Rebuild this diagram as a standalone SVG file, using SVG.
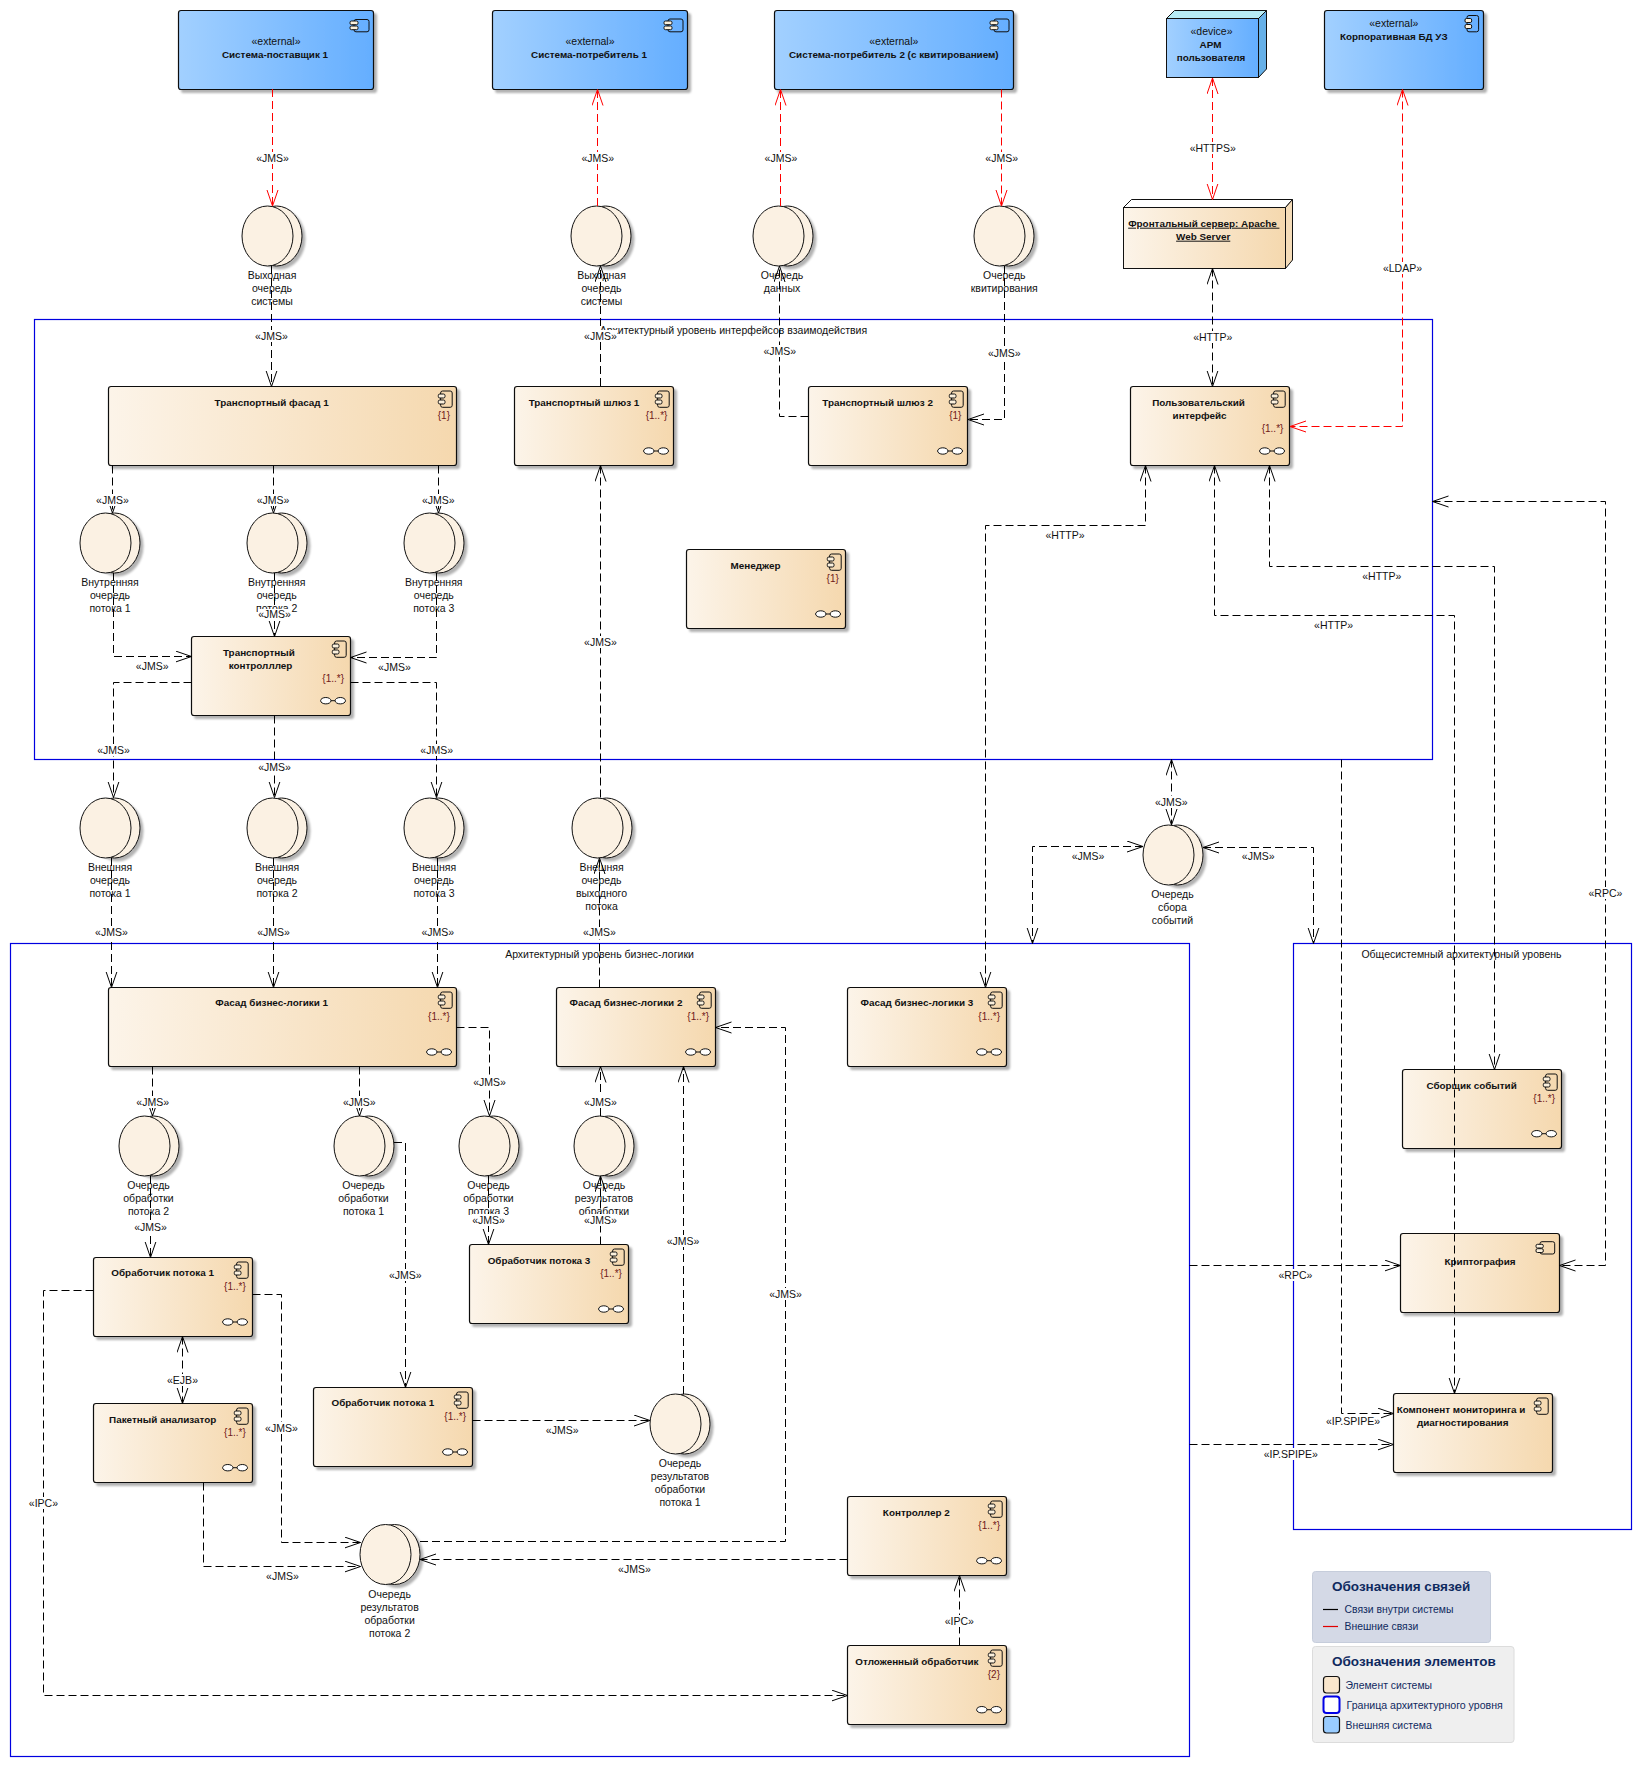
<svg xmlns="http://www.w3.org/2000/svg" width="1641" height="1766" viewBox="0 0 1641 1766">
<style>
text{font-family:"Liberation Sans",Arial,sans-serif;font-size:10.5px;fill:#111;text-anchor:middle}
text.b{font-weight:bold;font-size:9.9px}
text.m{text-anchor:end;fill:#701818;font-size:10px}
.frame{fill:none;stroke:#0000e0;stroke-width:1.2}
.cn{fill:url(#gn);stroke:#111;stroke-width:1.2;filter:url(#sh)}
.cb{fill:url(#gb);stroke:#111;stroke-width:1.2;filter:url(#sh)}
.ic{fill:none;stroke:#111;stroke-width:1}
.it{fill:#fbf0dc;stroke:#111;stroke-width:1}
.ll{fill:#fff;stroke:#111;stroke-width:1}
.qb{fill:#fbf1e3;stroke:#111;stroke-width:1;filter:url(#sh)}
.qf{fill:#fbf1e3;stroke:#111;stroke-width:1}
.c{fill:none;stroke:#000;stroke-width:1;stroke-dasharray:8 4}
.r{stroke:#f00}
.e{marker-end:url(#a)}
.s{marker-start:url(#a);marker-end:url(#a)}
.re{marker-end:url(#ar)}
.rs{marker-start:url(#ar);marker-end:url(#ar)}
.lb{fill:#fff}
text.lg{fill:#0f2a5f;text-anchor:start;font-size:10.4px}
text.lw{fill:#0f2a5f;text-anchor:start;font-size:10.6px}
text.lt{fill:#0f2a5f;font-size:13.5px;font-weight:bold;text-anchor:start}
</style>
<defs>
<linearGradient id="gn"><stop offset="0" stop-color="#fcf4e9"/><stop offset="1" stop-color="#f5d8ae"/></linearGradient>
<linearGradient id="gb"><stop offset="0" stop-color="#a2d0ff"/><stop offset="1" stop-color="#64aeff"/></linearGradient>
<filter id="sh" x="-10%" y="-10%" width="125%" height="125%"><feDropShadow dx="3" dy="3" stdDeviation="1.3" flood-color="#000" flood-opacity="0.3"/></filter>
<marker id="a" markerUnits="userSpaceOnUse" markerWidth="18" markerHeight="14" refX="16" refY="6" orient="auto-start-reverse"><path d="M0,.5 L16,6 L0,11.5" fill="none" stroke="#000"/></marker>
<marker id="ar" markerUnits="userSpaceOnUse" markerWidth="18" markerHeight="14" refX="16" refY="6" orient="auto-start-reverse"><path d="M0,.5 L16,6 L0,11.5" fill="none" stroke="#f00"/></marker>
</defs>
<rect width="1641" height="1766" fill="#fff"/>

<g id="frames">
<rect class="frame" x="34.5" y="319.5" width="1398" height="440"/>
<text x="733.5" y="334">Архитектурный уровень интерфейсов взаимодействия</text>
<rect class="frame" x="10.5" y="943.5" width="1179" height="813"/>
<text x="599.5" y="958">Архитектурный уровень бизнес-логики</text>
<rect class="frame" x="1293.5" y="943.5" width="338" height="586"/>
<text x="1461.5" y="958">Общесистемный архитектурный уровень</text>
</g>

<g id="sys1"><rect class="cb" x="178.5" y="10.5" width="195" height="79" rx="2.5"/><rect class="ic" x="354" y="19.5" width="15" height="12.3" rx="2"/><rect class="it" x="350" y="21" width="8" height="3.7" rx="1.5"/><rect class="it" x="350" y="26" width="8" height="3.7" rx="1.5"/><text x="276" y="44.7">«external»</text><text class="b" x="275" y="57.5">Система-поставщик 1</text></g>
<g id="sys2"><rect class="cb" x="492.5" y="10.5" width="195" height="79" rx="2.5"/><rect class="ic" x="668" y="19" width="15" height="12.8" rx="2"/><rect class="it" x="664" y="21" width="8" height="3.7" rx="1.5"/><rect class="it" x="664" y="26" width="8" height="3.7" rx="1.5"/><text x="590" y="44.7">«external»</text><text class="b" x="589" y="57.5">Система-потребитель 1</text></g>
<g id="sys3"><rect class="cb" x="774.5" y="10.5" width="239" height="79" rx="2.5"/><rect class="ic" x="994" y="19" width="15" height="12.8" rx="2"/><rect class="it" x="990" y="21" width="8" height="3.7" rx="1.5"/><rect class="it" x="990" y="26" width="8" height="3.7" rx="1.5"/><text x="893.8" y="44.7">«external»</text><text class="b" x="893.8" y="57.5">Система-потребитель 2 (с квитированием)</text></g>
<g id="apm"><path d="M1166.5,18.5 L1174.5,10.5 H1266.5 L1258.5,18.5 Z" fill="#b8ecf5" stroke="#111"/><path d="M1258.5,18.5 L1266.5,10.5 V69 L1258.5,77.5 Z" fill="#66b0e8" stroke="#111"/><rect x="1166.5" y="18.5" width="92" height="59" fill="url(#gb)" stroke="#111"/><text x="1211.5" y="34.7">«device»</text><text class="b" x="1210.5" y="47.5">АРМ</text><text class="b" x="1211" y="60.7">пользователя</text></g>
<g id="corp"><rect class="cb" x="1324.5" y="10.5" width="159" height="79" rx="2.5"/><rect class="ic" x="1467" y="15.5" width="11.6" height="16.3" rx="2"/><rect class="it" x="1465" y="18.5" width="6.7" height="4" rx="1.5"/><rect class="it" x="1465" y="24.5" width="6.7" height="4" rx="1.5"/><text x="1393.8" y="26.7">«external»</text><text class="b" x="1393.8" y="39.7">Корпоративная БД УЗ</text></g>
<g id="front"><path d="M1123.5,207.5 L1131.5,199.5 H1292.5 L1285.5,207.5 Z" fill="#fff" stroke="#111"/><path d="M1285.5,207.5 L1292.5,199.5 V260 L1285.5,268.5 Z" fill="#f5dcb8" stroke="#111"/><rect x="1123.5" y="207.5" width="162" height="61" fill="url(#gn)" stroke="#111"/><text class="b" x="1203.8" y="226.7" text-decoration="underline" xml:space="preserve">Фронтальный сервер: Apache </text><text class="b" x="1203.2" y="239.7" text-decoration="underline">Web Server</text></g>

<g id="tf1"><rect class="cn" x="108.5" y="386.5" width="348" height="79" rx="2.5"/><rect class="ic" x="440.6" y="391" width="11.6" height="16.3" rx="2"/><rect class="it" x="438.3" y="394" width="6.7" height="4" rx="1.5"/><rect class="it" x="438.3" y="400" width="6.7" height="4" rx="1.5"/><text class="b" x="271.7" y="405.6">Транспортный фасад 1</text><text class="m" x="450" y="418.7">{1}</text></g>
<g id="tg1"><rect class="cn" x="514.5" y="386.5" width="159" height="79" rx="2.5"/><rect class="ic" x="657.6" y="391" width="11.6" height="16.3" rx="2"/><rect class="it" x="655.3" y="394" width="6.7" height="4" rx="1.5"/><rect class="it" x="655.3" y="400" width="6.7" height="4" rx="1.5"/><ellipse class="ll" cx="648.8" cy="451" rx="5.2" ry="3.2"/><ellipse class="ll" cx="663.3" cy="451" rx="5.2" ry="3.2"/><path class="ic" d="M654,451h4"/><text class="b" x="584" y="405.6">Транспортный шлюз 1</text><text class="m" x="667.4" y="418.7">{1..*}</text></g>
<g id="tg2"><rect class="cn" x="808.5" y="386.5" width="159" height="79" rx="2.5"/><rect class="ic" x="951.6" y="391" width="11.6" height="16.3" rx="2"/><rect class="it" x="949.3" y="394" width="6.7" height="4" rx="1.5"/><rect class="it" x="949.3" y="400" width="6.7" height="4" rx="1.5"/><ellipse class="ll" cx="942.8" cy="451" rx="5.2" ry="3.2"/><ellipse class="ll" cx="957.3" cy="451" rx="5.2" ry="3.2"/><path class="ic" d="M948,451h4"/><text class="b" x="877.6" y="405.6">Транспортный шлюз 2</text><text class="m" x="961.4" y="418.7">{1}</text></g>
<g id="ui"><rect class="cn" x="1130.5" y="386.5" width="159" height="79" rx="2.5"/><rect class="ic" x="1273.6" y="391" width="11.6" height="16.3" rx="2"/><rect class="it" x="1271.3" y="394" width="6.7" height="4" rx="1.5"/><rect class="it" x="1271.3" y="400" width="6.7" height="4" rx="1.5"/><ellipse class="ll" cx="1264.8" cy="451" rx="5.2" ry="3.2"/><ellipse class="ll" cx="1279.3" cy="451" rx="5.2" ry="3.2"/><path class="ic" d="M1270,451h4"/><text class="b" x="1198.5" y="405.6">Пользовательский</text><text class="b" x="1199.6" y="418.7">интерфейс</text><text class="m" x="1283.4" y="432">{1..*}</text></g>
<g id="tc"><rect class="cn" x="191.5" y="636.5" width="159" height="79" rx="2.5"/><rect class="ic" x="334.6" y="641" width="11.6" height="16.3" rx="2"/><rect class="it" x="332.3" y="644" width="6.7" height="4" rx="1.5"/><rect class="it" x="332.3" y="650" width="6.7" height="4" rx="1.5"/><ellipse class="ll" cx="325.8" cy="700.7" rx="5.2" ry="3.2"/><ellipse class="ll" cx="340.3" cy="700.7" rx="5.2" ry="3.2"/><path class="ic" d="M331,700.7h4"/><text class="b" x="258.9" y="655.7">Транспортный</text><text class="b" x="260.5" y="669">контролллер</text><text class="m" x="344" y="682">{1..*}</text></g>
<g id="mgr"><rect class="cn" x="686.5" y="549.5" width="159" height="79" rx="2.5"/><rect class="ic" x="829.6" y="554" width="11.6" height="16.3" rx="2"/><rect class="it" x="827.3" y="557" width="6.7" height="4" rx="1.5"/><rect class="it" x="827.3" y="563" width="6.7" height="4" rx="1.5"/><ellipse class="ll" cx="820.8" cy="614" rx="5.2" ry="3.2"/><ellipse class="ll" cx="835.3" cy="614" rx="5.2" ry="3.2"/><path class="ic" d="M826,614h4"/><text class="b" x="755.5" y="568.7">Менеджер</text><text class="m" x="838.8" y="582">{1}</text></g>
<g id="fbl1"><rect class="cn" x="108.5" y="987.5" width="348" height="79" rx="2.5"/><rect class="ic" x="440.6" y="992" width="11.6" height="16.3" rx="2"/><rect class="it" x="438.3" y="995" width="6.7" height="4" rx="1.5"/><rect class="it" x="438.3" y="1001" width="6.7" height="4" rx="1.5"/><ellipse class="ll" cx="431.8" cy="1052" rx="5.2" ry="3.2"/><ellipse class="ll" cx="446.3" cy="1052" rx="5.2" ry="3.2"/><path class="ic" d="M437,1052h4"/><text class="b" x="271.7" y="1006.4">Фасад бизнес-логики 1</text><text class="m" x="449.8" y="1019.7">{1..*}</text></g>
<g id="fbl2"><rect class="cn" x="556.5" y="987.5" width="159" height="79" rx="2.5"/><rect class="ic" x="699.6" y="992" width="11.6" height="16.3" rx="2"/><rect class="it" x="697.3" y="995" width="6.7" height="4" rx="1.5"/><rect class="it" x="697.3" y="1001" width="6.7" height="4" rx="1.5"/><ellipse class="ll" cx="690.8" cy="1052" rx="5.2" ry="3.2"/><ellipse class="ll" cx="705.3" cy="1052" rx="5.2" ry="3.2"/><path class="ic" d="M696,1052h4"/><text class="b" x="626" y="1006.4">Фасад бизнес-логики 2</text><text class="m" x="709" y="1019.7">{1..*}</text></g>
<g id="fbl3"><rect class="cn" x="847.5" y="987.5" width="159" height="79" rx="2.5"/><rect class="ic" x="990.6" y="992" width="11.6" height="16.3" rx="2"/><rect class="it" x="988.3" y="995" width="6.7" height="4" rx="1.5"/><rect class="it" x="988.3" y="1001" width="6.7" height="4" rx="1.5"/><ellipse class="ll" cx="981.8" cy="1052" rx="5.2" ry="3.2"/><ellipse class="ll" cx="996.3" cy="1052" rx="5.2" ry="3.2"/><path class="ic" d="M987,1052h4"/><text class="b" x="916.9" y="1006.4">Фасад бизнес-логики 3</text><text class="m" x="1000" y="1019.7">{1..*}</text></g>
<g id="h1"><rect class="cn" x="93.5" y="1257.5" width="159" height="79" rx="2.5"/><rect class="ic" x="236.6" y="1262" width="11.6" height="16.3" rx="2"/><rect class="it" x="234.3" y="1265" width="6.7" height="4" rx="1.5"/><rect class="it" x="234.3" y="1271" width="6.7" height="4" rx="1.5"/><ellipse class="ll" cx="227.8" cy="1322" rx="5.2" ry="3.2"/><ellipse class="ll" cx="242.3" cy="1322" rx="5.2" ry="3.2"/><path class="ic" d="M233,1322h4"/><text class="b" x="162.7" y="1276.4">Обработчик потока 1</text><text class="m" x="245.8" y="1289.7">{1..*}</text></g>
<g id="h3"><rect class="cn" x="469.5" y="1244.5" width="159" height="79" rx="2.5"/><rect class="ic" x="612.6" y="1249" width="11.6" height="16.3" rx="2"/><rect class="it" x="610.3" y="1252" width="6.7" height="4" rx="1.5"/><rect class="it" x="610.3" y="1258" width="6.7" height="4" rx="1.5"/><ellipse class="ll" cx="603.8" cy="1309" rx="5.2" ry="3.2"/><ellipse class="ll" cx="618.3" cy="1309" rx="5.2" ry="3.2"/><path class="ic" d="M609,1309h4"/><text class="b" x="539" y="1263.7">Обработчик потока 3</text><text class="m" x="621.9" y="1276.7">{1..*}</text></g>
<g id="pa"><rect class="cn" x="93.5" y="1403.5" width="159" height="79" rx="2.5"/><rect class="ic" x="236.6" y="1408" width="11.6" height="16.3" rx="2"/><rect class="it" x="234.3" y="1411" width="6.7" height="4" rx="1.5"/><rect class="it" x="234.3" y="1417" width="6.7" height="4" rx="1.5"/><ellipse class="ll" cx="227.8" cy="1467.7" rx="5.2" ry="3.2"/><ellipse class="ll" cx="242.3" cy="1467.7" rx="5.2" ry="3.2"/><path class="ic" d="M233,1467.7h4"/><text class="b" x="162.7" y="1422.7">Пакетный анализатор</text><text class="m" x="245.8" y="1436">{1..*}</text></g>
<g id="h1b"><rect class="cn" x="313.5" y="1387.5" width="159" height="79" rx="2.5"/><rect class="ic" x="456.6" y="1392" width="11.6" height="16.3" rx="2"/><rect class="it" x="454.3" y="1395" width="6.7" height="4" rx="1.5"/><rect class="it" x="454.3" y="1401" width="6.7" height="4" rx="1.5"/><ellipse class="ll" cx="447.8" cy="1452" rx="5.2" ry="3.2"/><ellipse class="ll" cx="462.3" cy="1452" rx="5.2" ry="3.2"/><path class="ic" d="M453,1452h4"/><text class="b" x="382.8" y="1406.4">Обработчик потока 1</text><text class="m" x="466" y="1419.7">{1..*}</text></g>
<g id="ctl2"><rect class="cn" x="847.5" y="1496.5" width="159" height="79" rx="2.5"/><rect class="ic" x="990.6" y="1501" width="11.6" height="16.3" rx="2"/><rect class="it" x="988.3" y="1504" width="6.7" height="4" rx="1.5"/><rect class="it" x="988.3" y="1510" width="6.7" height="4" rx="1.5"/><ellipse class="ll" cx="981.8" cy="1560.7" rx="5.2" ry="3.2"/><ellipse class="ll" cx="996.3" cy="1560.7" rx="5.2" ry="3.2"/><path class="ic" d="M987,1560.7h4"/><text class="b" x="916.3" y="1515.7">Контроллер 2</text><text class="m" x="1000" y="1528.7">{1..*}</text></g>
<g id="def"><rect class="cn" x="847.5" y="1645.5" width="159" height="79" rx="2.5"/><rect class="ic" x="990.6" y="1650" width="11.6" height="16.3" rx="2"/><rect class="it" x="988.3" y="1653" width="6.7" height="4" rx="1.5"/><rect class="it" x="988.3" y="1659" width="6.7" height="4" rx="1.5"/><ellipse class="ll" cx="981.8" cy="1709.7" rx="5.2" ry="3.2"/><ellipse class="ll" cx="996.3" cy="1709.7" rx="5.2" ry="3.2"/><path class="ic" d="M987,1709.7h4"/><text class="b" x="916.9" y="1664.7">Отложенный обработчик</text><text class="m" x="1000" y="1677.7">{2}</text></g>
<g id="coll"><rect class="cn" x="1402.5" y="1069.5" width="159" height="79" rx="2.5"/><rect class="ic" x="1545.6" y="1074" width="11.6" height="16.3" rx="2"/><rect class="it" x="1543.3" y="1077" width="6.7" height="4" rx="1.5"/><rect class="it" x="1543.3" y="1083" width="6.7" height="4" rx="1.5"/><ellipse class="ll" cx="1536.8" cy="1133.7" rx="5.2" ry="3.2"/><ellipse class="ll" cx="1551.3" cy="1133.7" rx="5.2" ry="3.2"/><path class="ic" d="M1542,1133.7h4"/><text class="b" x="1471.6" y="1088.7">Сборщик событий</text><text class="m" x="1555" y="1102">{1..*}</text></g>
<g id="crypto"><rect class="cn" x="1400.5" y="1233.5" width="159" height="79" rx="2.5"/><rect class="ic" x="1540" y="1241.7" width="14.7" height="12.3" rx="2"/><rect class="it" x="1536" y="1244.3" width="7.3" height="3.7" rx="1.5"/><rect class="it" x="1536" y="1248.7" width="7.3" height="3.8" rx="1.5"/><text class="b" x="1480" y="1264.7">Криптография</text></g>
<g id="mon"><rect class="cn" x="1393.5" y="1393.5" width="159" height="79" rx="2.5"/><rect class="ic" x="1536.6" y="1398" width="11.6" height="16.3" rx="2"/><rect class="it" x="1534.3" y="1401" width="6.7" height="4" rx="1.5"/><rect class="it" x="1534.3" y="1407" width="6.7" height="4" rx="1.5"/><text class="b" x="1461" y="1412.7">Компонент мониторинга и</text><text class="b" x="1462.7" y="1425.7">диагностирования</text></g>

<g id="q1"><ellipse class="qb" cx="276.5" cy="236" rx="25.5" ry="30"/><ellipse class="qf" cx="267.5" cy="236" rx="25.5" ry="30"/><text x="272" y="278.5">Выходная</text><text x="272" y="291.5">очередь</text><text x="272" y="304.5">системы</text></g>
<g id="q2"><ellipse class="qb" cx="605.5" cy="236" rx="25.5" ry="30"/><ellipse class="qf" cx="596.5" cy="236" rx="25.5" ry="30"/><text x="601.5" y="278.5">Выходная</text><text x="601.5" y="291.5">очередь</text><text x="601.5" y="304.5">системы</text></g>
<g id="q3"><ellipse class="qb" cx="787.5" cy="236" rx="25.5" ry="30"/><ellipse class="qf" cx="778.5" cy="236" rx="25.5" ry="30"/><text x="782" y="278.5">Очередь</text><text x="782" y="291.5">данных</text></g>
<g id="q4"><ellipse class="qb" cx="1008.5" cy="236" rx="25.5" ry="30"/><ellipse class="qf" cx="999.5" cy="236" rx="25.5" ry="30"/><text x="1004.3" y="278.5">Очередь</text><text x="1004.3" y="291.5">квитирования</text></g>
<g id="iq1"><ellipse class="qb" cx="114.5" cy="543" rx="25.5" ry="30"/><ellipse class="qf" cx="105.5" cy="543" rx="25.5" ry="30"/><text x="110" y="585.7">Внутренняя</text><text x="110" y="598.7">очередь</text><text x="110" y="611.7">потока 1</text></g>
<g id="iq2"><ellipse class="qb" cx="281.5" cy="543" rx="25.5" ry="30"/><ellipse class="qf" cx="272.5" cy="543" rx="25.5" ry="30"/><text x="276.7" y="585.7">Внутренняя</text><text x="276.7" y="598.7">очередь</text><text x="276.7" y="611.7">потока 2</text></g>
<g id="iq3"><ellipse class="qb" cx="438.5" cy="543" rx="25.5" ry="30"/><ellipse class="qf" cx="429.5" cy="543" rx="25.5" ry="30"/><text x="433.8" y="585.7">Внутренняя</text><text x="433.8" y="598.7">очередь</text><text x="433.8" y="611.7">потока 3</text></g>
<g id="eq1"><ellipse class="qb" cx="114.5" cy="828" rx="25.5" ry="30"/><ellipse class="qf" cx="105.5" cy="828" rx="25.5" ry="30"/><text x="110" y="870.7">Внешняя</text><text x="110" y="883.7">очередь</text><text x="110" y="896.7">потока 1</text></g>
<g id="eq2"><ellipse class="qb" cx="281.5" cy="828" rx="25.5" ry="30"/><ellipse class="qf" cx="272.5" cy="828" rx="25.5" ry="30"/><text x="277" y="870.7">Внешняя</text><text x="277" y="883.7">очередь</text><text x="277" y="896.7">потока 2</text></g>
<g id="eq3"><ellipse class="qb" cx="438.5" cy="828" rx="25.5" ry="30"/><ellipse class="qf" cx="429.5" cy="828" rx="25.5" ry="30"/><text x="434" y="870.7">Внешняя</text><text x="434" y="883.7">очередь</text><text x="434" y="896.7">потока 3</text></g>
<g id="eq4"><ellipse class="qb" cx="606.5" cy="828" rx="25.5" ry="30"/><ellipse class="qf" cx="597.5" cy="828" rx="25.5" ry="30"/><text x="601.5" y="870.7">Внешняя</text><text x="601.5" y="883.7">очередь</text><text x="601.5" y="896.7">выходного</text><text x="601.5" y="909.7">потока</text></g>
<g id="qe"><ellipse class="qb" cx="1177.5" cy="855" rx="25.5" ry="30"/><ellipse class="qf" cx="1168.5" cy="855" rx="25.5" ry="30"/><text x="1172.4" y="897.7">Очередь</text><text x="1172.4" y="910.7">сбора</text><text x="1172.4" y="923.7">событий</text></g>
<g id="qp2"><ellipse class="qb" cx="153.5" cy="1146" rx="25.5" ry="30"/><ellipse class="qf" cx="144.5" cy="1146" rx="25.5" ry="30"/><text x="148.5" y="1188.7">Очередь</text><text x="148.5" y="1201.7">обработки</text><text x="148.5" y="1214.7">потока 2</text></g>
<g id="qp1"><ellipse class="qb" cx="368.5" cy="1146" rx="25.5" ry="30"/><ellipse class="qf" cx="359.5" cy="1146" rx="25.5" ry="30"/><text x="363.5" y="1188.7">Очередь</text><text x="363.5" y="1201.7">обработки</text><text x="363.5" y="1214.7">потока 1</text></g>
<g id="qp3"><ellipse class="qb" cx="493.5" cy="1146" rx="25.5" ry="30"/><ellipse class="qf" cx="484.5" cy="1146" rx="25.5" ry="30"/><text x="488.5" y="1188.7">Очередь</text><text x="488.5" y="1201.7">обработки</text><text x="488.5" y="1214.7">потока 3</text></g>
<g id="qr"><ellipse class="qb" cx="608.5" cy="1146" rx="25.5" ry="30"/><ellipse class="qf" cx="599.5" cy="1146" rx="25.5" ry="30"/><text x="604" y="1188.7">Очередь</text><text x="604" y="1201.7">результатов</text><text x="604" y="1214.7">обработки</text></g>
<g id="qr1"><ellipse class="qb" cx="684.5" cy="1424" rx="25.5" ry="30"/><ellipse class="qf" cx="675.5" cy="1424" rx="25.5" ry="30"/><text x="680" y="1466.7">Очередь</text><text x="680" y="1479.7">результатов</text><text x="680" y="1492.7">обработки</text><text x="680" y="1505.7">потока 1</text></g>
<g id="qr2"><ellipse class="qb" cx="394.5" cy="1554.5" rx="25.5" ry="30"/><ellipse class="qf" cx="385.5" cy="1554.5" rx="25.5" ry="30"/><text x="389.6" y="1597.7">Очередь</text><text x="389.6" y="1610.7">результатов</text><text x="389.6" y="1623.7">обработки</text><text x="389.6" y="1636.7">потока 2</text></g>

<g id="legend-links"><rect x="1312.5" y="1571.5" width="178" height="71" rx="3" fill="#d4d9e6" stroke="#c6cddb"/><text class="lt" x="1332" y="1591">Обозначения связей</text><path d="M1323,1609.5h15" stroke="#000" stroke-width="1.2"/><path d="M1323,1626.5h15" stroke="#e00000" stroke-width="1.2"/><text class="lg" x="1344.5" y="1612.7">Связи внутри системы</text><text class="lg" x="1344.5" y="1629.7">Внешние связи</text></g>
<g id="legend-elements"><rect x="1312.5" y="1646.5" width="201.5" height="96" rx="3" fill="#efefef" stroke="#dcdcdc"/><text class="lt" x="1332" y="1666">Обозначения элементов</text><rect x="1323.5" y="1676.5" width="16" height="16.5" rx="3" fill="#f9e6cc" stroke="#111" stroke-width="1.2"/><rect x="1323.5" y="1696.5" width="16" height="16.5" rx="3" fill="#fff" stroke="#0000e6" stroke-width="2"/><rect x="1323.5" y="1716.5" width="16" height="16.5" rx="3" fill="#99ccff" stroke="#111" stroke-width="1.2"/><text class="lg" x="1345.5" y="1688.7">Элемент системы</text><text class="lw" x="1346.5" y="1708.7">Граница архитектурного уровня</text><text class="lg" x="1345.5" y="1728.7">Внешняя система</text></g>

<g id="connectors">
<path class="c r re" d="M272.5,89V206"/>
<path class="c r re" d="M597.5,206V89.5"/>
<path class="c r re" d="M780.5,206V89.5"/>
<path class="c r re" d="M1001.5,89.5V206"/>
<path class="c r rs" d="M1212.5,78V199.5"/>
<path class="c r rs" d="M1402.5,89.5V426.5H1290"/>
<path class="c e" d="M271.5,266V386.5"/>
<path class="c e" d="M600.5,386V266"/>
<path class="c e" d="M808.5,416.5H779.5V266"/>
<path class="c e" d="M1004.5,266V419.5H968"/>
<path class="c s" d="M1212.5,268.5V386.5"/>
<path class="c e" d="M112.5,465.5V513"/>
<path class="c e" d="M273.5,465.5V513"/>
<path class="c e" d="M438.5,465.5V513"/>
<path class="c e" d="M113.5,573V656.5H191.5"/>
<path class="c e" d="M274.5,573V636.5"/>
<path class="c e" d="M436.5,573V657.5H350.5"/>
<path class="c e" d="M191.5,682.5H113.5V797.5"/>
<path class="c e" d="M274.5,715.5V797.5"/>
<path class="c e" d="M350.5,682.5H436.5V797.5"/>
<path class="c e" d="M600.5,797.5V465.5"/>
<path class="c e" d="M111.5,858V987.5"/>
<path class="c e" d="M273.5,858V987.5"/>
<path class="c e" d="M437.5,858V987.5"/>
<path class="c e" d="M599.5,987.5V858"/>
<path class="c s" d="M1145.5,465.5V525.5H985.5V987.5"/>
<path class="c s" d="M1214.5,465.5V615.5H1454.5V1393.5"/>
<path class="c s" d="M1269.5,465.5V566.5H1494.5V1069.5"/>
<path class="c s" d="M1432.5,501.5H1605.5V1265.5H1559.5"/>
<path class="c s" d="M1171.5,759.5V825"/>
<path class="c s" d="M1143,846.5H1032.5V943.5"/>
<path class="c s" d="M1203,847.5H1313.5V943.5"/>
<path class="c e" d="M1341.5,759.5V1413.5H1393.5"/>
<path class="c e" d="M1189.5,1265.5H1400.5"/>
<path class="c e" d="M1189.5,1444.5H1393.5"/>
<path class="c e" d="M152.5,1066.5V1116"/>
<path class="c e" d="M359.5,1066.5V1116"/>
<path class="c e" d="M456.5,1027.5H489.5V1116"/>
<path class="c e" d="M600.5,1244.5V1176"/>
<path class="c e" d="M600.5,1116V1066.5"/>
<path class="c e" d="M150.5,1176V1257.5"/>
<path class="c e" d="M488.5,1176V1244.5"/>
<path class="c e" d="M394,1142.5H405.5V1387.5"/>
<path class="c s" d="M182.5,1336.5V1403.5"/>
<path class="c e" d="M252.5,1294.5H281.5V1542.5H360.5"/>
<path class="c e" d="M203.5,1482.5V1566.5H360.5"/>
<path class="c e" d="M420,1541.5H785.5V1027.5H715.5"/>
<path class="c e" d="M472.5,1420.5H650"/>
<path class="c e" d="M683.5,1394V1066.5"/>
<path class="c e" d="M847.5,1559.5H420"/>
<path class="c e" d="M959.5,1645.5V1575.5"/>
<path class="c e" d="M93.5,1290.5H43.5V1695.5H847.5"/>
</g>

<g id="connector-labels">
<rect class="lb" x="256" y="152" width="33" height="12"/><text x="272.5" y="161.7">«JMS»</text>
<rect class="lb" x="581" y="152" width="33" height="12"/><text x="597.8" y="161.7">«JMS»</text>
<rect class="lb" x="764" y="152" width="33" height="12"/><text x="780.9" y="161.7">«JMS»</text>
<rect class="lb" x="985" y="152" width="33" height="12"/><text x="1001.7" y="161.7">«JMS»</text>
<rect class="lb" x="1189" y="142" width="47" height="12"/><text x="1212.7" y="151.7">«HTTPS»</text>
<rect class="lb" x="1383" y="262" width="39" height="12"/><text x="1402.5" y="271.7">«LDAP»</text>
<rect class="lb" x="255" y="330" width="33" height="12"/><text x="271.4" y="339.7">«JMS»</text>
<rect class="lb" x="584" y="330" width="33" height="12"/><text x="600.4" y="339.7">«JMS»</text>
<rect class="lb" x="763" y="345" width="33" height="12"/><text x="779.8" y="354.7">«JMS»</text>
<rect class="lb" x="988" y="347" width="33" height="12"/><text x="1004.3" y="356.7">«JMS»</text>
<rect class="lb" x="1192" y="331" width="40" height="12"/><text x="1212.7" y="340.7">«HTTP»</text>
<rect class="lb" x="96" y="494" width="33" height="12"/><text x="112.4" y="503.7">«JMS»</text>
<rect class="lb" x="257" y="494" width="33" height="12"/><text x="273" y="503.7">«JMS»</text>
<rect class="lb" x="422" y="494" width="33" height="12"/><text x="438.3" y="503.7">«JMS»</text>
<rect class="lb" x="136" y="660" width="33" height="12"/><text x="152.2" y="669.7">«JMS»</text>
<rect class="lb" x="258" y="609" width="33" height="12"/><text x="274.6" y="618.4">«JMS»</text>
<rect class="lb" x="378" y="661" width="33" height="12"/><text x="394.4" y="670.7">«JMS»</text>
<rect class="lb" x="97" y="744" width="33" height="12"/><text x="113.5" y="753.7">«JMS»</text>
<rect class="lb" x="258" y="761" width="33" height="12"/><text x="274.6" y="770.7">«JMS»</text>
<rect class="lb" x="420" y="744" width="33" height="12"/><text x="436.7" y="753.7">«JMS»</text>
<rect class="lb" x="584" y="636" width="33" height="12"/><text x="600.4" y="645.7">«JMS»</text>
<rect class="lb" x="95" y="927" width="33" height="12"/><text x="111.4" y="936.4">«JMS»</text>
<rect class="lb" x="257" y="927" width="33" height="12"/><text x="273.5" y="936.4">«JMS»</text>
<rect class="lb" x="421" y="927" width="33" height="12"/><text x="437.8" y="936.4">«JMS»</text>
<rect class="lb" x="583" y="927" width="33" height="12"/><text x="599.4" y="936.4">«JMS»</text>
<rect class="lb" x="1045" y="529" width="40" height="12"/><text x="1065" y="538.7">«HTTP»</text>
<rect class="lb" x="1313" y="619" width="40" height="12"/><text x="1333.6" y="628.7">«HTTP»</text>
<rect class="lb" x="1361" y="570" width="40" height="12"/><text x="1381.8" y="579.7">«HTTP»</text>
<rect class="lb" x="1589" y="887" width="33" height="12"/><text x="1605.4" y="897">«RPC»</text>
<rect class="lb" x="1155" y="796" width="33" height="12"/><text x="1171.3" y="805.7">«JMS»</text>
<rect class="lb" x="1072" y="850" width="33" height="12"/><text x="1088" y="859.7">«JMS»</text>
<rect class="lb" x="1242" y="851" width="33" height="12"/><text x="1258.2" y="860.4">«JMS»</text>
<rect class="lb" x="1325" y="1415" width="56" height="12"/><text x="1353" y="1424.7">«IP.SPIPE»</text>
<rect class="lb" x="1279" y="1269" width="33" height="12"/><text x="1295.4" y="1278.7">«RPC»</text>
<rect class="lb" x="1263" y="1448" width="56" height="12"/><text x="1290.7" y="1457.7">«IP.SPIPE»</text>
<rect class="lb" x="136" y="1096" width="33" height="12"/><text x="152.7" y="1105.7">«JMS»</text>
<rect class="lb" x="343" y="1096" width="33" height="12"/><text x="359.3" y="1105.7">«JMS»</text>
<rect class="lb" x="473" y="1076" width="33" height="12"/><text x="489.5" y="1085.7">«JMS»</text>
<rect class="lb" x="584" y="1214" width="33" height="12"/><text x="600.4" y="1223.7">«JMS»</text>
<rect class="lb" x="584" y="1096" width="33" height="12"/><text x="600.4" y="1105.7">«JMS»</text>
<rect class="lb" x="134" y="1221" width="33" height="12"/><text x="150.6" y="1230.7">«JMS»</text>
<rect class="lb" x="472" y="1214" width="33" height="12"/><text x="488.5" y="1223.7">«JMS»</text>
<rect class="lb" x="389" y="1269" width="33" height="12"/><text x="405.3" y="1278.7">«JMS»</text>
<rect class="lb" x="167" y="1374" width="31" height="12"/><text x="182.5" y="1383.7">«EJB»</text>
<rect class="lb" x="265" y="1422" width="33" height="12"/><text x="281.4" y="1431.7">«JMS»</text>
<rect class="lb" x="266" y="1570" width="33" height="12"/><text x="282.4" y="1579.7">«JMS»</text>
<rect class="lb" x="769" y="1288" width="33" height="12"/><text x="785.6" y="1297.7">«JMS»</text>
<rect class="lb" x="546" y="1424" width="33" height="12"/><text x="562.2" y="1433.7">«JMS»</text>
<rect class="lb" x="667" y="1235" width="33" height="12"/><text x="683" y="1244.7">«JMS»</text>
<rect class="lb" x="618" y="1563" width="33" height="12"/><text x="634.4" y="1572.7">«JMS»</text>
<rect class="lb" x="945" y="1615" width="29" height="12"/><text x="959.3" y="1624.7">«IPC»</text>
<rect class="lb" x="29" y="1497" width="29" height="12"/><text x="43.4" y="1506.7">«IPC»</text>
</g>
</svg>
